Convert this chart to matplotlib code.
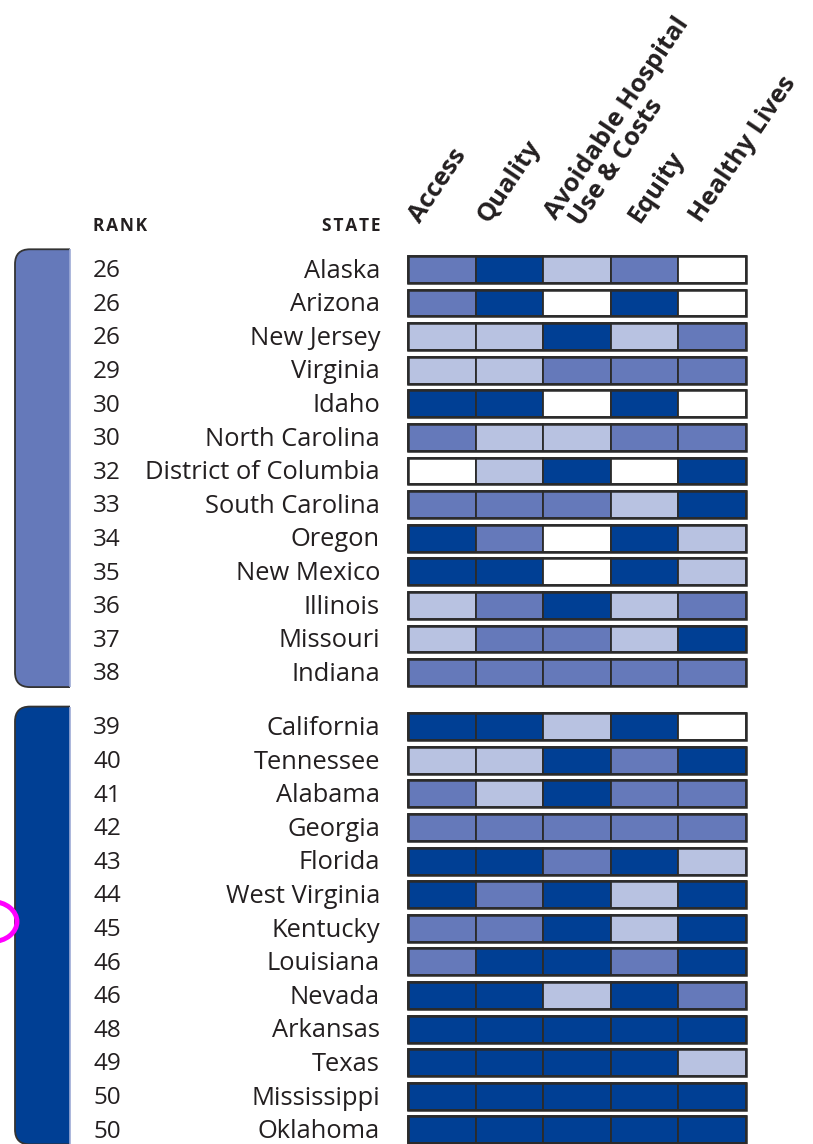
import matplotlib.pyplot as plt
from matplotlib.patches import Rectangle, FancyBboxPatch, Ellipse

plt.rcParams['font.family'] = ['Open Sans', 'DejaVu Sans']

ranks = [26, 26, 26, 29, 30, 30, 32, 33, 34, 35, 36, 37, 38,
         39, 40, 41, 42, 43, 44, 45, 46, 46, 48, 49, 50, 50]
states = ['Alaska', 'Arizona', 'New Jersey', 'Virginia', 'Idaho', 'North Carolina',
          'District of Columbia', 'South Carolina', 'Oregon', 'New Mexico', 'Illinois',
          'Missouri', 'Indiana',
          'California', 'Tennessee', 'Alabama', 'Georgia', 'Florida', 'West Virginia',
          'Kentucky', 'Louisiana', 'Nevada', 'Arkansas', 'Texas', 'Mississippi', 'Oklahoma']
dimensions = ['Access', 'Quality', 'Avoidable Hospital\nUse & Costs', 'Equity', 'Healthy Lives']

# performance quartile per dimension: 1 = top quartile ... 4 = bottom quartile
access = [3, 3, 2, 2, 4, 3, 1, 3, 4, 4, 2, 2, 3,
          4, 2, 3, 3, 4, 4, 3, 3, 4, 4, 4, 4, 4]
quality = [4, 4, 2, 2, 4, 2, 2, 3, 3, 4, 3, 3, 3,
           4, 2, 2, 3, 4, 3, 3, 4, 4, 4, 4, 4, 4]
avoidable = [2, 1, 4, 3, 1, 2, 4, 3, 1, 1, 4, 3, 3,
             2, 4, 4, 3, 3, 4, 4, 4, 2, 4, 4, 4, 4]
equity = [3, 4, 2, 3, 4, 3, 1, 2, 4, 4, 2, 2, 3,
          4, 3, 3, 3, 4, 2, 2, 3, 4, 4, 4, 4, 4]
healthy = [1, 1, 3, 3, 1, 3, 4, 4, 2, 2, 3, 4, 3,
           1, 4, 3, 3, 2, 4, 4, 4, 3, 4, 2, 4, 4]
group_sizes = [13, 13]
highlight_state = 'Kentucky'

quartile_colors = {1: '#FFFFFF', 2: '#B8C2E1', 3: '#6579BA', 4: '#003F94'}
group_colors = ['#6579BA', '#003F94']
text_color = '#231F20'

# pixel size of one column / one row step
PX_X, PX_Y = 67.6, 33.6
GAP = 0.61
CELL_H = 0.80

fig = plt.figure(figsize=(8.13, 11.44), dpi=100)
ax = fig.add_axes([0, 0, 1, 1])
ax.set_xlim(-408 / PX_X, (813 - 408) / PX_X)
ax.set_ylim((1144 - 256) / PX_Y, -256 / PX_Y)
ax.axis('off')

columns = [access, quality, avoidable, equity, healthy]
row_y = []
start = 0
for g, n in enumerate(group_sizes):
    for i in range(start, start + n):
        row_y.append(i + g * GAP)
    start += n

# heatmap cells
for i, y in enumerate(row_y):
    for j, col in enumerate(columns):
        ax.add_patch(Rectangle((j, y), 1, CELL_H, facecolor=quartile_colors[col[i]],
                               edgecolor='#2B2B2B', linewidth=1.3, zorder=2))
    ax.add_patch(Rectangle((0, y), len(columns), CELL_H, facecolor='none',
                           edgecolor='#2B2B2B', linewidth=1.8, zorder=3))
    ty = y + CELL_H / 2 + 0.05
    ax.text(-315 / PX_X, ty, str(ranks[i]), ha='left', va='center',
            fontsize=17.5, color=text_color, zorder=5)
    ax.text(-28 / PX_X, ty, states[i], ha='right', va='center',
            fontsize=18.4, color=text_color)

# group brackets on the left
bx0, bx1 = -393 / PX_X, -338 / PX_X
start = 0
for g, n in enumerate(group_sizes):
    top = row_y[start] - 0.2
    bottom = row_y[start + n - 1] + CELL_H + 0.03
    box = FancyBboxPatch((bx0, top), bx1 - bx0 + 0.25, bottom - top,
                         boxstyle='round,pad=0,rounding_size=0.22',
                         mutation_aspect=PX_X / PX_Y,
                         facecolor=group_colors[g], edgecolor='#333333',
                         linewidth=1.3, zorder=1, clip_on=False)
    ax.add_patch(box)
    ax.add_patch(Rectangle((bx1, top - 0.2), 0.3, bottom - top + 0.4,
                           facecolor='white', edgecolor='none', zorder=1.5,
                           clip_on=False))
    ax.plot([bx1, bx1], [top, bottom], color='#9DAAD6', lw=1.2, zorder=1.6,
            solid_capstyle='butt', clip_on=False)
    start += n

# column headers
header_off = [12, 13, 13, 29, 23]
for j, label in enumerate(dimensions):
    lines = label.split('\n')
    base_y = -0.95 if len(lines) == 1 else -1.04
    for k, line in enumerate(lines):
        ax.text(j + (header_off[j] + k * 25) / PX_X, base_y + k * 6 / PX_Y, line,
                rotation=56, rotation_mode='anchor', ha='left', va='baseline',
                fontsize=18.3, fontweight='bold', color=text_color)

ax.text(-315 / PX_X, -0.74, 'R\u200aA\u200aN\u200aK', ha='left', va='baseline',
        fontsize=12.5, fontweight='bold', color=text_color)
ax.text(-28 / PX_X, -0.74, 'S\u200aT\u200aA\u200aT\u200aE', ha='right', va='baseline',
        fontsize=12.5, fontweight='bold', color=text_color)

# highlight mark
hi = states.index(highlight_state)
ax.add_patch(Ellipse((-416 / PX_X, row_y[hi] + 0.2), 50 / PX_X, 40 / PX_Y,
                     facecolor='none', edgecolor='#FF00FF', linewidth=3.5,
                     zorder=4, clip_on=False))

fig.savefig('out.png', dpi=100)
